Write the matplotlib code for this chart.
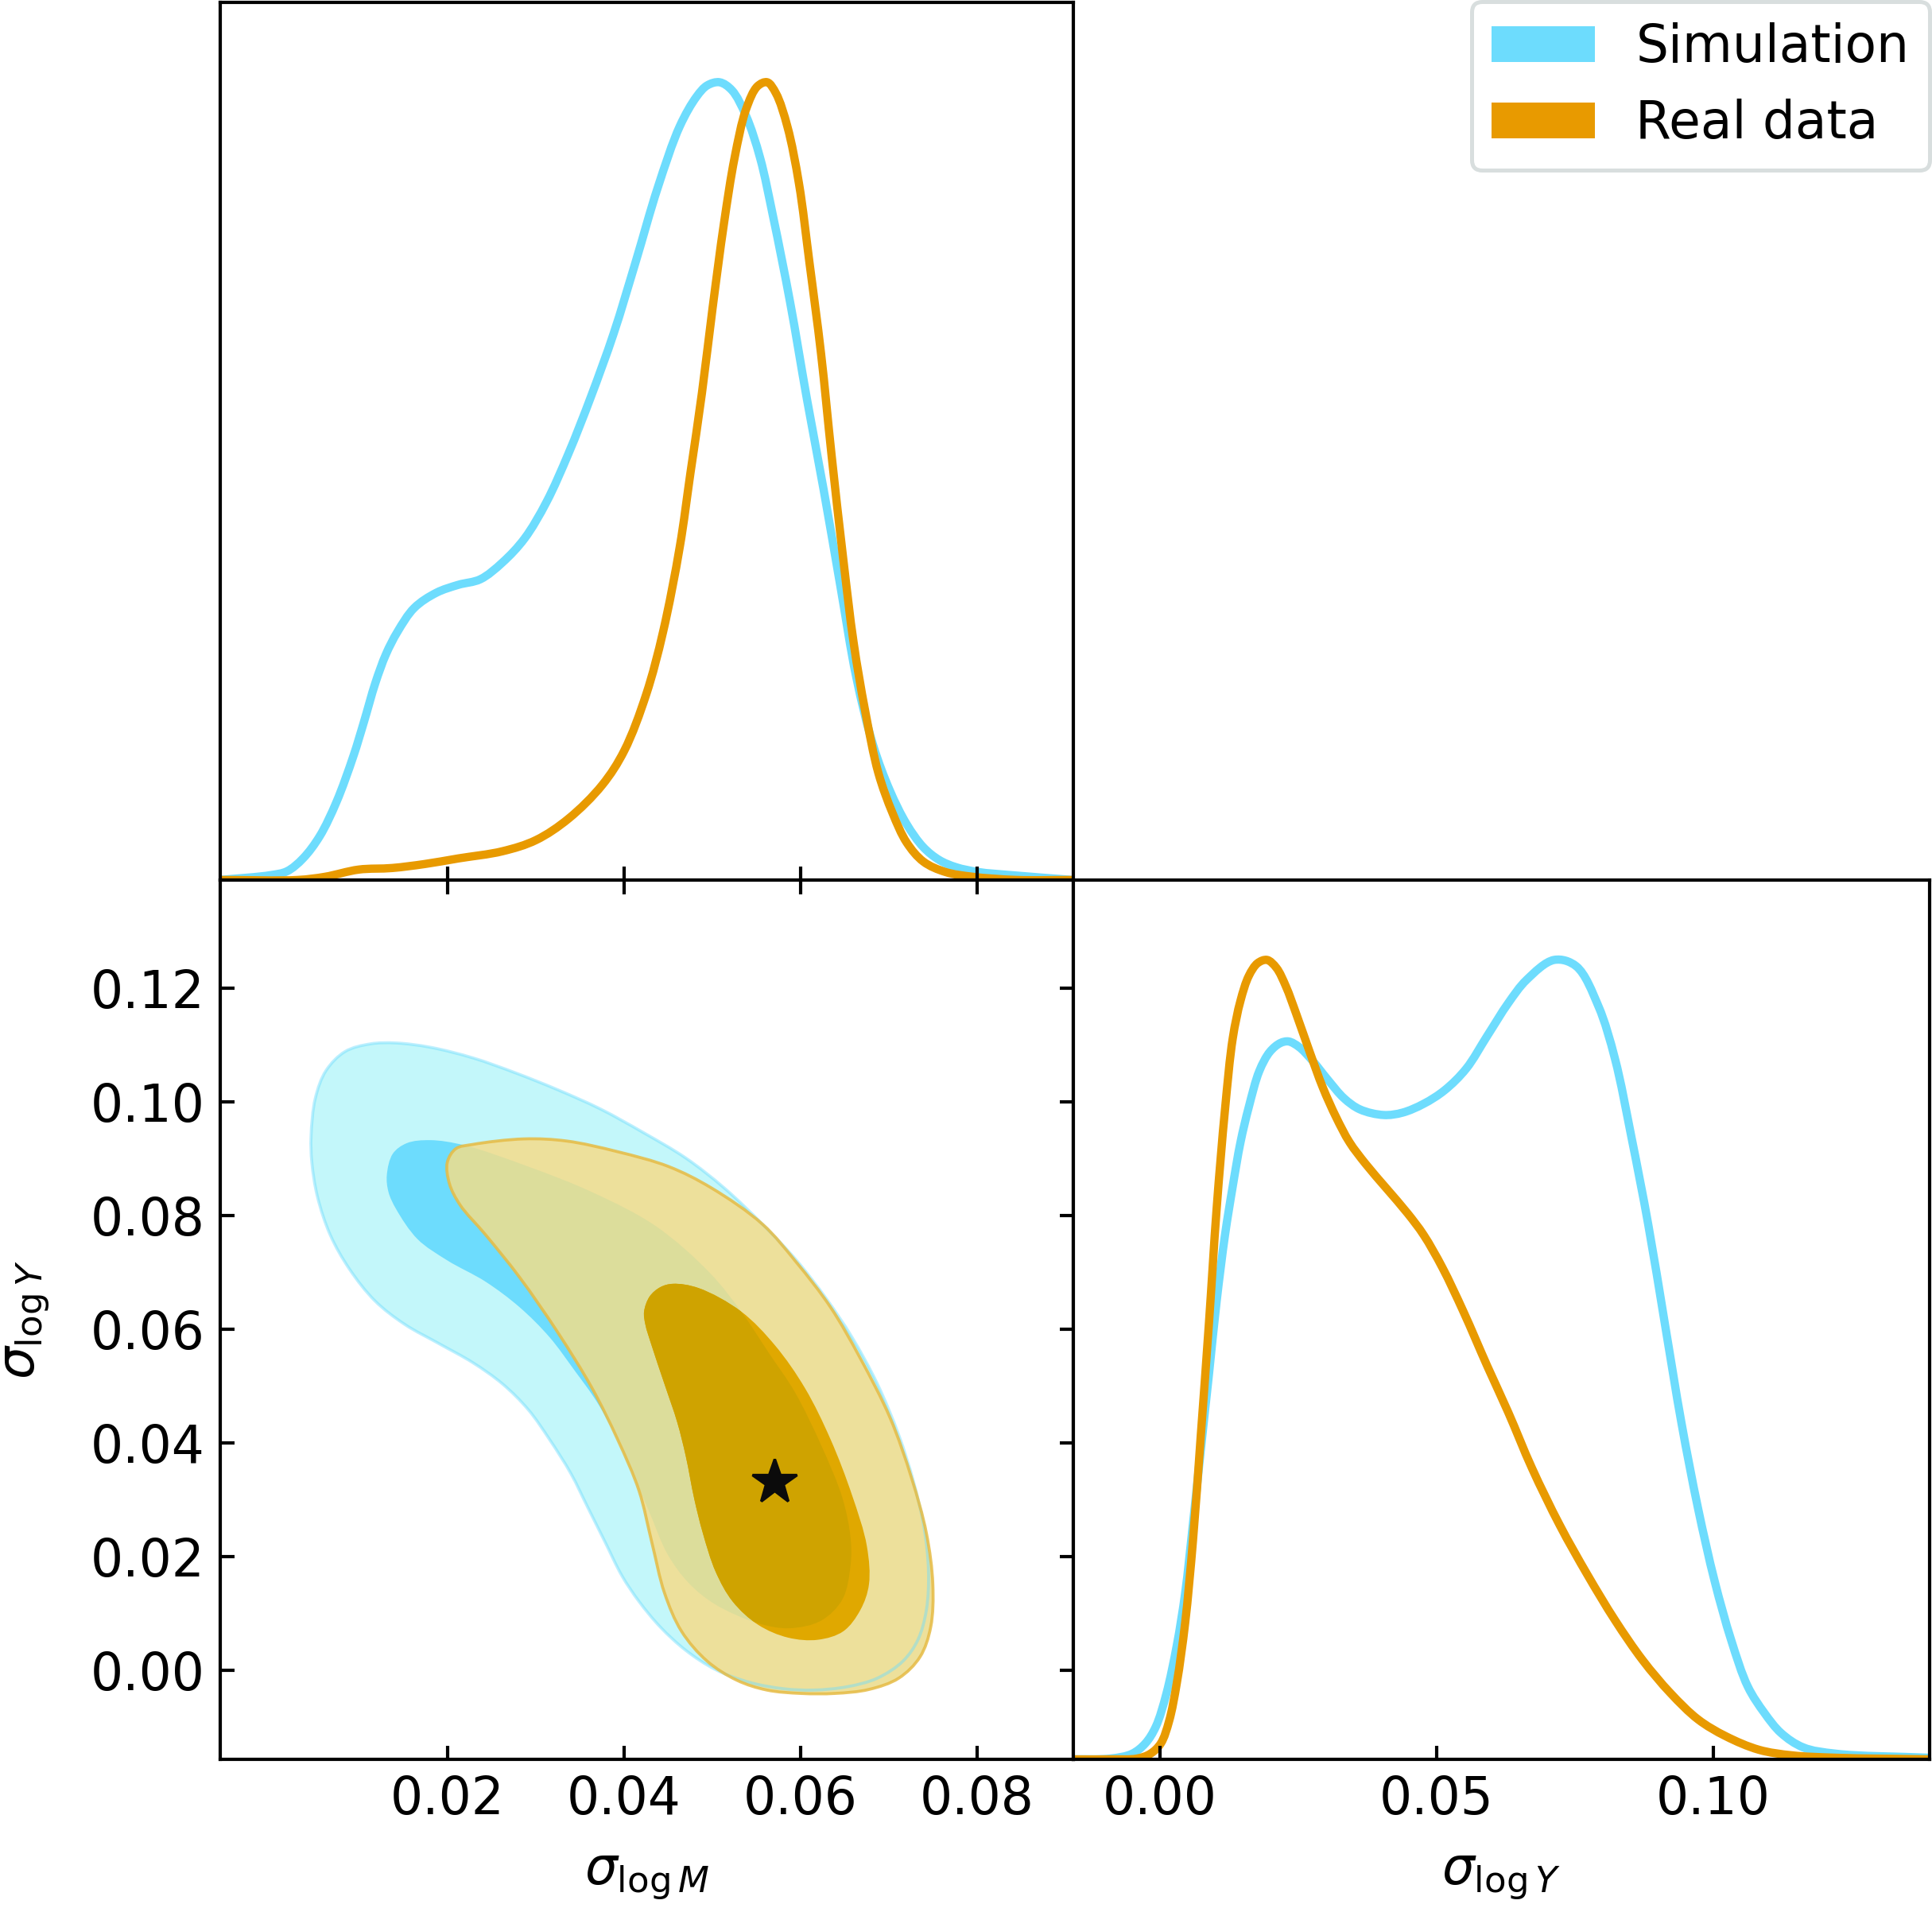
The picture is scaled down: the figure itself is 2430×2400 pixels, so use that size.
import numpy as np
import matplotlib
matplotlib.use("Agg")
import matplotlib.pyplot as plt
from matplotlib.patches import Patch, PathPatch
from matplotlib.path import Path

# ---------------- data ----------------
# marginal of sigma_logM (normalised density)
m_sim_x = [-0.0058, -0.0001, 0.0018, 0.0036, 0.0055, 0.0074, 0.0093, 0.0105, 0.0118, 0.0130,
           0.0143, 0.0162, 0.0187, 0.0212, 0.0237, 0.0262, 0.0287, 0.0312, 0.0337, 0.0362,
           0.0388, 0.0413, 0.0438, 0.0463, 0.0482, 0.0494, 0.0508, 0.0522, 0.0538, 0.0554,
           0.0569, 0.0588, 0.0607, 0.0626, 0.0645, 0.0663, 0.0682, 0.0701, 0.0720, 0.0739,
           0.0757, 0.0776, 0.0801, 0.0839, 0.0908]
m_sim_p = [0.0, 0.006, 0.011, 0.027, 0.055, 0.098, 0.155, 0.198, 0.247, 0.283,
           0.311, 0.341, 0.360, 0.370, 0.377, 0.398, 0.428, 0.474, 0.535, 0.605,
           0.685, 0.775, 0.868, 0.945, 0.982, 0.996, 1.0, 0.990, 0.958, 0.905,
           0.830, 0.724, 0.603, 0.489, 0.368, 0.254, 0.169, 0.112, 0.070, 0.041,
           0.025, 0.016, 0.010, 0.006, 0.0]
m_real_x = [-0.0058, 0.0030, 0.0061, 0.0099, 0.0137, 0.0174, 0.0212, 0.0262, 0.0300, 0.0337,
            0.0375, 0.0400, 0.0425, 0.0444, 0.0463, 0.0475, 0.0488, 0.0500, 0.0513, 0.0525,
            0.0538, 0.0551, 0.0562, 0.0572, 0.0585, 0.0598, 0.0610, 0.0623, 0.0635, 0.0648,
            0.0660, 0.0673, 0.0688, 0.0704, 0.0720, 0.0739, 0.0764, 0.0795, 0.0845, 0.0908]
m_real_p = [0.0, 0.0, 0.004, 0.013, 0.015, 0.020, 0.027, 0.036, 0.050, 0.077,
            0.119, 0.162, 0.233, 0.311, 0.418, 0.510, 0.610, 0.716, 0.823, 0.905,
            0.966, 0.995, 1.0, 0.986, 0.944, 0.873, 0.773, 0.660, 0.532, 0.404,
            0.297, 0.212, 0.134, 0.084, 0.047, 0.023, 0.010, 0.004, 0.0, 0.0]

# marginal of sigma_logY (normalised density)
y_sim_x = [-0.0159, -0.0089, -0.0050, -0.0026, -0.0007, 0.0012, 0.0031, 0.0046, 0.0060, 0.0074,
           0.0089, 0.0103, 0.0118, 0.0132, 0.0146, 0.0161, 0.0180, 0.0199, 0.0218, 0.0233,
           0.0252, 0.0276, 0.0304, 0.0333, 0.0362, 0.0405, 0.0439, 0.0477, 0.0515, 0.0554,
           0.0592, 0.0630, 0.0663, 0.0713, 0.0753, 0.0793, 0.0823, 0.0853, 0.0883, 0.0913,
           0.0943, 0.0973, 0.1003, 0.1033, 0.1063, 0.1093, 0.1123, 0.1163, 0.1223, 0.1391]
y_sim_p = [0.0, 0.001, 0.007, 0.020, 0.041, 0.082, 0.143, 0.208, 0.294, 0.386,
           0.482, 0.574, 0.656, 0.717, 0.772, 0.816, 0.861, 0.885, 0.896, 0.898,
           0.891, 0.874, 0.850, 0.827, 0.813, 0.806, 0.809, 0.820, 0.837, 0.864,
           0.905, 0.946, 0.975, 1.0, 0.992, 0.942, 0.876, 0.777, 0.669, 0.545,
           0.421, 0.314, 0.223, 0.149, 0.091, 0.058, 0.033, 0.015, 0.007, 0.002]
y_real_x = [-0.0159, -0.0089, -0.0041, -0.0017, 0.0002, 0.0017, 0.0031, 0.0046, 0.0060, 0.0074,
            0.0089, 0.0103, 0.0118, 0.0132, 0.0146, 0.0161, 0.0177, 0.0194, 0.0211, 0.0228,
            0.0247, 0.0271, 0.0295, 0.0319, 0.0343, 0.0372, 0.0410, 0.0448, 0.0477, 0.0511,
            0.0549, 0.0592, 0.0630, 0.0673, 0.0723, 0.0773, 0.0823, 0.0873, 0.0923, 0.0973,
            0.1023, 0.1083, 0.1143, 0.1223, 0.1391]
y_real_p = [0.0, 0.0, 0.001, 0.007, 0.020, 0.048, 0.096, 0.171, 0.273, 0.403,
            0.546, 0.690, 0.813, 0.902, 0.949, 0.980, 0.996, 1.0, 0.990, 0.967,
            0.932, 0.885, 0.840, 0.803, 0.772, 0.745, 0.714, 0.683, 0.656, 0.615,
            0.560, 0.492, 0.434, 0.364, 0.293, 0.231, 0.174, 0.124, 0.083, 0.050,
            0.029, 0.012, 0.005, 0.002, 0.0]

# 2D contours (sigma_logM, sigma_logY): 95% and 68% regions
sim95_x = [0.00451, 0.00499, 0.00620, 0.00837, 0.01126, 0.01416, 0.01802, 0.02285, 0.02767, 0.03250,
           0.03732, 0.04215, 0.04698, 0.05132, 0.05566, 0.05952, 0.06290, 0.06580, 0.06869, 0.07111,
           0.07279, 0.07400, 0.07448, 0.07424, 0.07328, 0.07159, 0.06869, 0.06531, 0.06145, 0.05808,
           0.05421, 0.05035, 0.04698, 0.04408, 0.04167, 0.03974, 0.03781, 0.03588, 0.03395, 0.03153,
           0.02912, 0.02622, 0.02285, 0.01898, 0.01512, 0.01175, 0.00885, 0.00668, 0.00523, 0.00460]
sim95_y = [0.09393, 0.10067, 0.10555, 0.10892, 0.11027, 0.11042, 0.10967, 0.10780, 0.10517, 0.10217,
           0.09880, 0.09468, 0.09018, 0.08493, 0.07855, 0.07218, 0.06543, 0.05868, 0.05043, 0.04144,
           0.03319, 0.02494, 0.01744, 0.01069, 0.00544, 0.00169, -0.00131, -0.00281, -0.00341, -0.00318,
           -0.00206, 0.00019, 0.00357, 0.00769, 0.01219, 0.01669, 0.02269, 0.02869, 0.03469, 0.04069,
           0.04593, 0.05043, 0.05418, 0.05756, 0.06093, 0.06506, 0.07068, 0.07668, 0.08343, 0.08943]

sim68_x = [0.01310, 0.01377, 0.01536, 0.01802, 0.02188, 0.02912, 0.03636, 0.04360, 0.04968, 0.05335,
           0.05634, 0.05933, 0.06232, 0.06473, 0.06565, 0.06565, 0.06473, 0.06232, 0.05870, 0.05513,
           0.05031, 0.04731, 0.04490, 0.04282, 0.04118, 0.03925, 0.03684, 0.03443, 0.03153, 0.02815,
           0.02429, 0.01995, 0.01657, 0.01416, 0.01329]
sim68_y = [0.08718, 0.09093, 0.09280, 0.09333, 0.09243, 0.08868, 0.08418, 0.07818, 0.07001, 0.06296,
           0.05599, 0.04901, 0.03964, 0.03034, 0.02329, 0.01864, 0.01257, 0.00882, 0.00747, 0.00837,
           0.01167, 0.01542, 0.02052, 0.02802, 0.03394, 0.04069, 0.04744, 0.05269, 0.05868, 0.06393,
           0.06843, 0.07218, 0.07593, 0.08118, 0.08418]

real95_x = [0.01995, 0.02092, 0.02285, 0.02864, 0.03346, 0.03925, 0.04504, 0.04987, 0.05566, 0.05952,
            0.06338, 0.06676, 0.07014, 0.07255, 0.07424, 0.07497, 0.07473, 0.07352, 0.07111, 0.06773,
            0.06387, 0.06001, 0.05615, 0.05277, 0.04939, 0.04649, 0.04456, 0.04311, 0.04167, 0.03925,
            0.03636, 0.03250, 0.02815, 0.02429, 0.02140, 0.02019]
real95_y = [0.08943, 0.09183, 0.09258, 0.09355, 0.09318, 0.09130, 0.08868, 0.08493, 0.07855, 0.07181,
            0.06393, 0.05493, 0.04443, 0.03394, 0.02419, 0.01519, 0.00769, 0.00244, -0.00131, -0.00330,
            -0.00400, -0.00400, -0.00340, -0.00168, 0.00169, 0.00694, 0.01369, 0.02269, 0.03169, 0.04069,
            0.04968, 0.05943, 0.06918, 0.07668, 0.08193, 0.08568]

real68_x = [0.04225, 0.04287, 0.04408, 0.04553, 0.04842, 0.05325, 0.05711, 0.06049, 0.06338, 0.06580,
            0.06749, 0.06773, 0.06676, 0.06483, 0.06194, 0.05856, 0.05518, 0.05228, 0.05035, 0.04891,
            0.04794, 0.04698, 0.04601, 0.04456, 0.04311, 0.04239]
real68_y = [0.06318, 0.06581, 0.06746, 0.06806, 0.06731, 0.06318, 0.05718, 0.04968, 0.04069, 0.03094,
            0.02194, 0.01519, 0.01069, 0.00694, 0.00544, 0.00582, 0.00807, 0.01219, 0.01744, 0.02419,
            0.03019, 0.03769, 0.04368, 0.05043, 0.05718, 0.06093]

star_x = [0.0570]
star_y = [0.0332]

labels = ["Simulation", "Real data"]
m_ticks = [0.02, 0.04, 0.06, 0.08]
m_ticklabels = ["0.02", "0.04", "0.06", "0.08"]
y_ticks = [0.00, 0.02, 0.04, 0.06, 0.08, 0.10, 0.12]
y_ticklabels = ["0.00", "0.02", "0.04", "0.06", "0.08", "0.10", "0.12"]
y1d_ticks = [0.00, 0.05, 0.10]
y1d_ticklabels = ["0.00", "0.05", "0.10"]

# ---------------- style ----------------
SIM = "#6ddcfd"
SIM_LIGHT = "#c3f7fa"
REAL = "#e89a00"
REAL_OUT = "#ede09b"        # real 95% band as seen
REAL_OUT_ON_SIM = "#dcdd9b" # real 95% band over simulation 68% region
REAL_IN = "#e0a800"         # real 68% region as seen
REAL_IN_ON_SIM = "#cfa300"  # real 68% region over simulation 68% region
REAL_EDGE = "#e6bb44"

m_lim = (-0.0058, 0.0909)
y_lim = (-0.0156, 0.1391)


def smooth_path(xs, ys, closed, sx, sy):
    """Centripetal Catmull-Rom curve through the given points, as a Bezier Path."""
    pts = np.column_stack([np.asarray(xs, float) / sx, np.asarray(ys, float) / sy])
    n = len(pts)
    if closed:
        ext = np.vstack([pts[-1], pts, pts[0], pts[1]])
        nseg = n
    else:
        ext = np.vstack([2 * pts[0] - pts[1], pts, 2 * pts[-1] - pts[-2]])
        nseg = n - 1
    verts = [pts[0]]
    codes = [Path.MOVETO]
    for i in range(nseg):
        p0, p1, p2, p3 = ext[i], ext[i + 1], ext[i + 2], ext[i + 3]
        d1 = max(np.linalg.norm(p1 - p0) ** 0.5, 1e-9)
        d2 = max(np.linalg.norm(p2 - p1) ** 0.5, 1e-9)
        d3 = max(np.linalg.norm(p3 - p2) ** 0.5, 1e-9)
        b1 = (d1 ** 2 * p2 - d2 ** 2 * p0 + (2 * d1 ** 2 + 3 * d1 * d2 + d2 ** 2) * p1) / (3 * d1 * (d1 + d2))
        b2 = (d3 ** 2 * p1 - d2 ** 2 * p3 + (2 * d3 ** 2 + 3 * d3 * d2 + d2 ** 2) * p2) / (3 * d3 * (d3 + d2))
        verts += [b1, b2, p2]
        codes += [Path.CURVE4] * 3
    if closed:
        verts.append(pts[0])
        codes.append(Path.CLOSEPOLY)
    verts = np.array(verts) * np.array([sx, sy])
    return Path(verts, codes)


def add_curve(ax, xs, ys, closed, sx, sy, clip=None, **kw):
    patch = PathPatch(smooth_path(xs, ys, closed, sx, sy), transform=ax.transData, **kw)
    ax.add_patch(patch)
    if clip is not None:
        patch.set_clip_path(clip)
    return patch


fig = plt.figure(figsize=(8.1, 8.0), dpi=300)
L, Mx, R = 0.1139, 0.5556, 0.9986
B, Cy, T = 0.0779, 0.5388, 0.9987
ax_top = fig.add_axes([L, Cy, Mx - L, T - Cy])
ax2d = fig.add_axes([L, B, Mx - L, Cy - B])
ax_r = fig.add_axes([Mx, B, R - Mx, Cy - B])

for ax in (ax_top, ax2d, ax_r):
    for s in ax.spines.values():
        s.set_linewidth(1.0)
    ax.tick_params(direction="in", length=4.2, width=1.0, labelsize=15.5, pad=4.5)

sM = m_lim[1] - m_lim[0]
sY = y_lim[1] - y_lim[0]
LW1D = 2.5

# top marginal
add_curve(ax_top, m_sim_x, m_sim_p, False, sM, 1.1, fill=False, edgecolor=SIM, lw=LW1D,
          joinstyle="round", capstyle="round")
add_curve(ax_top, m_real_x, m_real_p, False, sM, 1.1, fill=False, edgecolor=REAL, lw=LW1D,
          joinstyle="round", capstyle="round")
ax_top.set_xlim(*m_lim)
ax_top.set_ylim(0, 1.1)
ax_top.set_xticks(m_ticks)
ax_top.set_xticklabels([])
ax_top.set_yticks([])
ax_top.tick_params(axis="x", bottom=True, top=False)

# 2D panel
ax2d.set_xlim(*m_lim)
ax2d.set_ylim(*y_lim)
add_curve(ax2d, sim95_x, sim95_y, True, sM, sY, facecolor=SIM_LIGHT, edgecolor="none", lw=0, zorder=1)
add_curve(ax2d, sim68_x, sim68_y, True, sM, sY, facecolor=SIM, edgecolor="none", lw=0, zorder=2)
r95 = add_curve(ax2d, real95_x, real95_y, True, sM, sY, facecolor=REAL_OUT, edgecolor="none", lw=0, zorder=3)
add_curve(ax2d, sim68_x, sim68_y, True, sM, sY, clip=r95, facecolor=REAL_OUT_ON_SIM, edgecolor="none",
          lw=0, zorder=3.1)
r68 = add_curve(ax2d, real68_x, real68_y, True, sM, sY, facecolor=REAL_IN, edgecolor="none", lw=0, zorder=4)
add_curve(ax2d, sim68_x, sim68_y, True, sM, sY, clip=r68, facecolor=REAL_IN_ON_SIM, edgecolor="none",
          lw=0, zorder=4.1)
add_curve(ax2d, sim95_x, sim95_y, True, sM, sY, fill=False, edgecolor=SIM, lw=0.9, alpha=0.45, zorder=5)
add_curve(ax2d, real95_x, real95_y, True, sM, sY, fill=False, edgecolor=REAL_EDGE, lw=0.9, alpha=0.85,
          zorder=5)
ax2d.plot(star_x, star_y, marker="*", ms=14, color="#0b0b0b", mec="#0b0b0b", mew=0.8, ls="none", zorder=6)
ax2d.set_xticks(m_ticks)
ax2d.set_xticklabels(m_ticklabels)
ax2d.set_yticks(y_ticks)
ax2d.set_yticklabels(y_ticklabels)
ax2d.tick_params(axis="x", bottom=True, top=True)
ax2d.tick_params(axis="y", left=True, right=True)
ax2d.set_xlabel(r"$\sigma_{\log M}$", fontsize=15.5, labelpad=7.5)
ax2d.set_ylabel(r"$\sigma_{\log Y}$", fontsize=15.5, labelpad=12)

# right marginal
add_curve(ax_r, y_sim_x, y_sim_p, False, sY, 1.1, fill=False, edgecolor=SIM, lw=LW1D,
          joinstyle="round", capstyle="round")
add_curve(ax_r, y_real_x, y_real_p, False, sY, 1.1, fill=False, edgecolor=REAL, lw=LW1D,
          joinstyle="round", capstyle="round")
ax_r.set_xlim(*y_lim)
ax_r.set_ylim(0, 1.1)
ax_r.set_xticks(y1d_ticks)
ax_r.set_xticklabels(y1d_ticklabels)
ax_r.set_yticks([])
ax_r.tick_params(axis="x", bottom=True, top=False)
ax_r.set_xlabel(r"$\sigma_{\log Y}$", fontsize=15.5, labelpad=7.5)

handles = [Patch(facecolor=SIM, edgecolor="none"), Patch(facecolor=REAL, edgecolor="none")]
leg = fig.legend(handles, labels, loc="upper right", bbox_to_anchor=(0.9988, 0.9992),
                 fontsize=15.5, frameon=True, fancybox=True, framealpha=1.0,
                 edgecolor="#d8dede", borderaxespad=0.0)
leg.get_frame().set_linewidth(1.2)

fig.savefig("out.png", dpi=300)
